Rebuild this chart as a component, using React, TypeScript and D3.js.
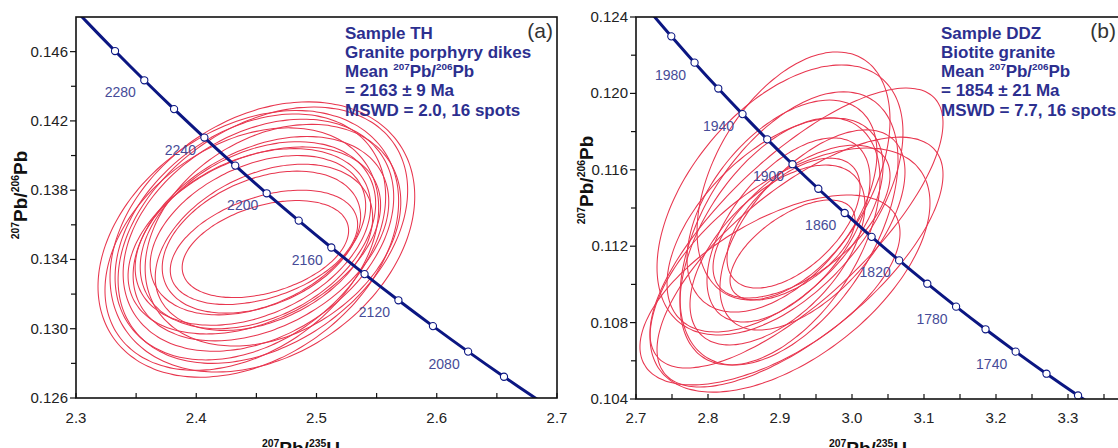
import React from 'react';
import * as d3 from 'd3';

// ---------- Panel (a) data ----------
const aXTicks = [2.3, 2.4, 2.5, 2.6, 2.7];
const aXMinor = [2.35, 2.45, 2.55, 2.65];
const aYTicks = [0.126, 0.13, 0.134, 0.138, 0.142, 0.146];
const aYMinor = [0.128, 0.132, 0.136, 0.14, 0.144];
const aConcAge = [2340, 2320, 2300, 2280, 2260, 2240, 2220, 2200, 2180, 2160, 2140, 2120, 2100, 2080, 2060, 2040];
const aConcX = [2.28506, 2.30855, 2.33246, 2.35679, 2.38155, 2.40676, 2.43243, 2.45857, 2.4852, 2.51232, 2.53996, 2.56812, 2.59683, 2.62608, 2.65591, 2.68633];
const aConcY = [0.149481, 0.147746, 0.146035, 0.144346, 0.142681, 0.141038, 0.139418, 0.13782, 0.136244, 0.134689, 0.133155, 0.131642, 0.130151, 0.128678, 0.127226, 0.125794];
const aMarkerAges = [2300, 2280, 2260, 2240, 2220, 2200, 2180, 2160, 2140, 2120, 2100, 2080, 2060];
const aLabelAges = [2280, 2240, 2200, 2160, 2120, 2080];
const aEllCx = [2.4433, 2.455, 2.4554, 2.4517, 2.4538, 2.4513, 2.4483, 2.4471, 2.4513, 2.4542, 2.4563, 2.4575, 2.4638, 2.445, 2.4379, 2.4563];
const aEllCy = [0.1349, 0.1353, 0.1354, 0.1354, 0.1352, 0.1354, 0.1351, 0.1353, 0.1354, 0.135, 0.1347, 0.1346, 0.1354, 0.1353, 0.1346, 0.1347];
const aEllSx = [0.125, 0.1267, 0.1204, 0.1125, 0.1063, 0.0979, 0.105, 0.0979, 0.0896, 0.0825, 0.0779, 0.0692, 0.1063, 0.1125, 0.1138, 0.0904];
const aEllSy = [0.0077, 0.0078, 0.0074, 0.0067, 0.0059, 0.0054, 0.0054, 0.0051, 0.0046, 0.0041, 0.0033, 0.0028, 0.0064, 0.0071, 0.007, 0.0048];
const aEllRho = [0.32, 0.3, 0.35, 0.33, 0.36, 0.34, 0.38, 0.35, 0.37, 0.36, 0.4, 0.38, 0.3, 0.33, 0.34, 0.36];
const aLegend = ['Sample TH', 'Granite porphyry dikes', 'Mean ^207Pb/^206Pb', '= 2163 \u00b1 9 Ma', 'MSWD = 2.0, 16 spots'];

// ---------- Panel (b) data ----------
const bXTicks = [2.7, 2.8, 2.9, 3.0, 3.1, 3.2, 3.3];
const bXMinor = [2.75, 2.85, 2.95, 3.05, 3.15, 3.25, 3.35];
const bYTicks = [0.104, 0.108, 0.112, 0.116, 0.12, 0.124];
const bYMinor = [0.106, 0.11, 0.114, 0.118, 0.122];
const bConcAge = [2020, 2000, 1980, 1960, 1940, 1920, 1900, 1880, 1860, 1840, 1820, 1800, 1780, 1760, 1740, 1720, 1700, 1680];
const bConcX = [2.71736, 2.74903, 2.78132, 2.81428, 2.84794, 2.88229, 2.91737, 2.95321, 2.98983, 3.02724, 3.06548, 3.10458, 3.14456, 3.18546, 3.22731, 3.27012, 3.31396, 3.35885];
const bConcY = [0.124381, 0.122987, 0.121611, 0.120255, 0.118916, 0.117594, 0.116293, 0.115007, 0.113739, 0.112489, 0.111256, 0.110037, 0.108834, 0.107649, 0.10648, 0.105325, 0.104186, 0.103063];
const bMarkerAges = [2000, 1980, 1960, 1940, 1920, 1900, 1880, 1860, 1840, 1820, 1800, 1780, 1760, 1740, 1720, 1700];
const bLabelAges = [1980, 1940, 1900, 1860, 1820, 1780, 1740];
const bEllCx = [2.9188, 2.9229, 2.9278, 2.9139, 2.9, 2.9125, 2.8931, 2.9028, 2.9118, 2.9299, 2.9188, 2.8861, 2.8965, 2.9, 2.9174, 2.9451];
const bEllCy = [0.11568, 0.11295, 0.11117, 0.11075, 0.11442, 0.11293, 0.11311, 0.1141, 0.11285, 0.11329, 0.11321, 0.10971, 0.11154, 0.11225, 0.1118, 0.11285];
const bEllSx = [0.134, 0.2035, 0.1986, 0.1944, 0.1708, 0.1514, 0.15, 0.1319, 0.1132, 0.1229, 0.0924, 0.1806, 0.1215, 0.1389, 0.0868, 0.1285];
const bEllSy = [0.00649, 0.00733, 0.00654, 0.00639, 0.00707, 0.00715, 0.0056, 0.00555, 0.00482, 0.004, 0.0034, 0.00497, 0.00471, 0.00647, 0.00262, 0.00524];
const bEllRho = [0.45, 0.75, 0.7, 0.55, 0.5, 0.5, 0.55, 0.5, 0.55, 0.6, 0.55, 0.6, 0.55, 0.5, 0.6, 0.58];
const bLegend = ['Sample DDZ', 'Biotite granite', 'Mean ^207Pb/^206Pb', '= 1854 \u00b1 21 Ma', 'MSWD = 7.7, 16 spots'];

const FONT = "'Liberation Sans', Arial, Helvetica, sans-serif";
const RED = '#e8364f';
const NAVY = '#0b1682';
const LEGEND_COLOR = '#2c2f8f';
const AGE_COLOR = '#464b98';

function rich(text: string, fs: number, supScale = 0.6) {
  const parts = text.split(/(\^\d+)/).filter((p) => p.length > 0);
  const out: any[] = [];
  let shifted = false;
  parts.forEach((p, i) => {
    if (p.startsWith('^')) {
      out.push(
        <tspan key={i} fontSize={fs * supScale} dy={shifted ? 0 : -fs * 0.42}>
          {p.slice(1)}
        </tspan>
      );
      shifted = true;
    } else {
      out.push(
        <tspan key={i} fontSize={fs} dy={shifted ? fs * 0.42 : 0}>
          {p}
        </tspan>
      );
      shifted = false;
    }
  });
  return out;
}

type PanelProps = {
  id: string;
  xDomain: [number, number];
  xRange: [number, number];
  yDomain: [number, number];
  yRange: [number, number];
  xTicks: number[];
  xMinor: number[];
  yTicks: number[];
  yMinor: number[];
  concAge: number[];
  concX: number[];
  concY: number[];
  markerAges: number[];
  labelAges: number[];
  ellCx: number[];
  ellCy: number[];
  ellSx: number[];
  ellSy: number[];
  ellRho: number[];
  legend: string[];
  legendX: number;
  letter: string;
  letterX: number;
  yTitleX: number;
  yTitleY: number;
  xTitleX: number;
};

function Panel(p: PanelProps) {
  const x = d3.scaleLinear().domain(p.xDomain).range(p.xRange);
  const y = d3.scaleLinear().domain(p.yDomain).range(p.yRange);
  const [x0, x1] = p.xRange;
  const [y0, y1] = [p.yRange[1], p.yRange[0]]; // top, bottom
  const clipId = 'clip-' + p.id;

  const thetas = d3.range(0, 360, 3).map((d) => (d * Math.PI) / 180);
  const ellLine = d3
    .line<[number, number]>()
    .x((d) => x(d[0]))
    .y((d) => y(d[1]))
    .curve(d3.curveCardinalClosed);

  const ellipses = p.ellCx.map((cx, i) => {
    const sx = p.ellSx[i];
    const sy = p.ellSy[i];
    const r = p.ellRho[i];
    const q = Math.sqrt(1 - r * r);
    const pts: [number, number][] = thetas.map((t) => [
      cx + sx * Math.cos(t),
      p.ellCy[i] + sy * (r * Math.cos(t) + q * Math.sin(t)),
    ]);
    return ellLine(pts) as string;
  });

  const concPts: [number, number][] = p.concX.map((cx, i) => [cx, p.concY[i]]);
  const concLine = d3
    .line<[number, number]>()
    .x((d) => x(d[0]))
    .y((d) => y(d[1]))
    .curve(d3.curveCatmullRom);

  const ageIdx = (a: number) => p.concAge.indexOf(a);
  const fmtX = d3.format('.1f');
  const fmtY = d3.format('.3f');
  const tickFs = 15;
  const legFs = 17;

  return (
    <g>
      <defs>
        <clipPath id={clipId}>
          <rect x={x0} y={y0} width={x1 - x0} height={y1 - y0} />
        </clipPath>
      </defs>
      <g clipPath={`url(#${clipId})`}>
        {ellipses.map((d, i) => (
          <path key={i} d={d} fill="none" stroke={RED} strokeWidth={1.05} />
        ))}
        <path d={concLine(concPts) as string} fill="none" stroke={NAVY} strokeWidth={3} />
      </g>
      {p.markerAges.map((a) => {
        const i = ageIdx(a);
        return (
          <circle key={a} cx={x(p.concX[i])} cy={y(p.concY[i])} r={3.6} fill="#fff" stroke={NAVY} strokeWidth={1.1} />
        );
      })}
      {p.labelAges.map((a) => {
        const i = ageIdx(a);
        return (
          <text
            key={a}
            x={x(p.concX[i]) - 24}
            y={y(p.concY[i]) + 17}
            textAnchor="middle"
            fontFamily={FONT}
            fontSize={14}
            fill={AGE_COLOR}
          >
            {a}
          </text>
        );
      })}
      {/* frame */}
      <rect x={x0} y={y0} width={x1 - x0} height={y1 - y0} fill="none" stroke="#111" strokeWidth={1.6} />
      {/* x ticks (inward) */}
      {p.xTicks.concat(p.xMinor).map((t) => (
        <line key={'xt' + t} x1={x(t)} x2={x(t)} y1={y1} y2={y1 - 5} stroke="#111" strokeWidth={1.2} />
      ))}
      {p.xTicks.map((t) => (
        <text key={'xl' + t} x={x(t)} y={423} textAnchor="middle" fontFamily={FONT} fontSize={tickFs} fill="#222">
          {fmtX(t)}
        </text>
      ))}
      {/* y ticks (outward) */}
      {p.yTicks.map((t) => (
        <line key={'yt' + t} x1={x0 - 6} x2={x0} y1={y(t)} y2={y(t)} stroke="#111" strokeWidth={1.2} />
      ))}
      {p.yMinor.map((t) => (
        <line key={'ym' + t} x1={x0 - 5} x2={x0} y1={y(t)} y2={y(t)} stroke="#111" strokeWidth={1.2} />
      ))}
      {p.yTicks.map((t) => (
        <text key={'yl' + t} x={x0 - 8} y={y(t) + 5} textAnchor="end" fontFamily={FONT} fontSize={tickFs} fill="#222">
          {fmtY(t)}
        </text>
      ))}
      {/* legend */}
      {p.legend.map((line, i) => (
        <text key={'lg' + i} x={p.legendX} y={38.5 + i * 19.3} fontFamily={FONT} fontSize={legFs} fontWeight="bold" fill={LEGEND_COLOR}>
          {rich(line, legFs, 0.58)}
        </text>
      ))}
      <text x={p.letterX} y={37.5} textAnchor="end" fontFamily={FONT} fontSize={21} fill="#333">
        {p.letter}
      </text>
      {/* axis titles */}
      <text
        transform={`translate(${p.yTitleX},${p.yTitleY}) rotate(-90)`}
        textAnchor="middle"
        fontFamily={FONT}
        fontSize={19}
        fontWeight="bold"
        fill="#111"
      >
        {rich('^207Pb/^206Pb', 19, 0.55)}
      </text>
      <text x={p.xTitleX} y={455} textAnchor="middle" fontFamily={FONT} fontSize={19} fontWeight="bold" fill="#111">
        {rich('^207Pb/^235U', 19, 0.55)}
      </text>
    </g>
  );
}

export default function App() {
  return (
    <svg
      width={1118}
      height={448}
      viewBox="0 0 1118 448"
      style={{ position: 'absolute', left: 0, top: 0, background: '#fff' }}
    >
      <rect x={0} y={0} width={1118} height={448} fill="#fff" />
      <Panel
        id="a"
        xDomain={[2.3, 2.7]}
        xRange={[76, 557]}
        yDomain={[0.126, 0.148]}
        yRange={[398, 17]}
        xTicks={aXTicks}
        xMinor={aXMinor}
        yTicks={aYTicks}
        yMinor={aYMinor}
        concAge={aConcAge}
        concX={aConcX}
        concY={aConcY}
        markerAges={aMarkerAges}
        labelAges={aLabelAges}
        ellCx={aEllCx}
        ellCy={aEllCy}
        ellSx={aEllSx}
        ellSy={aEllSy}
        ellRho={aEllRho}
        legend={aLegend}
        legendX={345}
        letter="(a)"
        letterX={553}
        yTitleX={27}
        yTitleY={195}
        xTitleX={301}
      />
      <Panel
        id="b"
        xDomain={[2.7, 3.4]}
        xRange={[636, 1140]}
        yDomain={[0.104, 0.124]}
        yRange={[399, 17]}
        xTicks={bXTicks}
        xMinor={bXMinor}
        yTicks={bYTicks}
        yMinor={bYMinor}
        concAge={bConcAge}
        concX={bConcX}
        concY={bConcY}
        markerAges={bMarkerAges}
        labelAges={bLabelAges}
        ellCx={bEllCx}
        ellCy={bEllCy}
        ellSx={bEllSx}
        ellSy={bEllSy}
        ellRho={bEllRho}
        legend={bLegend}
        legendX={941}
        letter="(b)"
        letterX={1116}
        yTitleX={593}
        yTitleY={180}
        xTitleX={868}
      />
    </svg>
  );
}
